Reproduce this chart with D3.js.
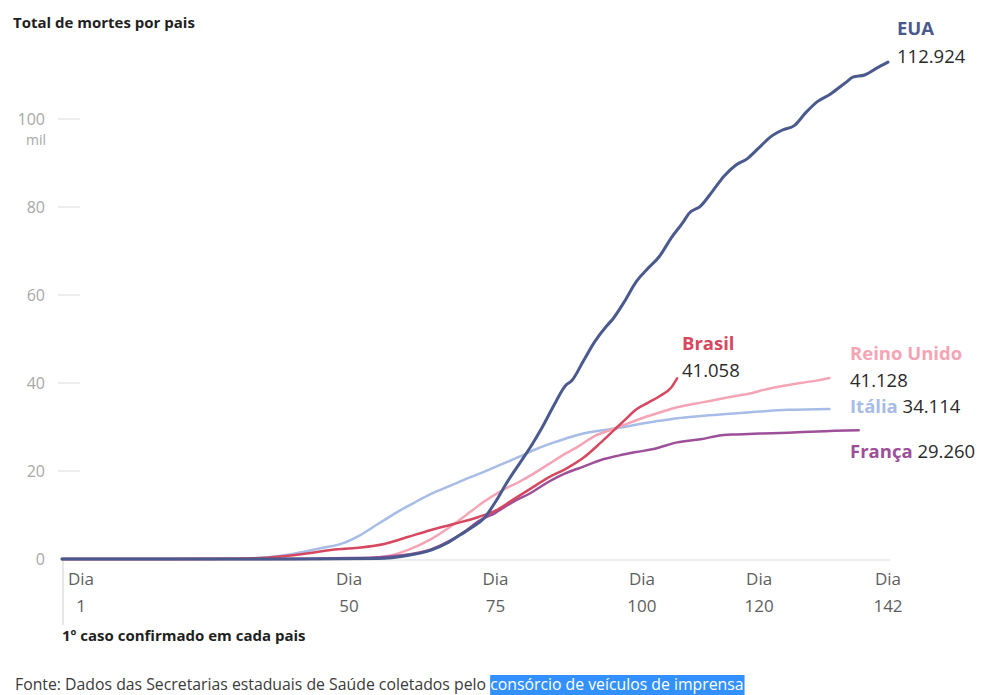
<!DOCTYPE html>
<html><head><meta charset="utf-8">
<script src="https://cdn.jsdelivr.net/npm/d3@7"></script>
<style>
html,body{margin:0;padding:0;background:#fff;overflow:hidden}
svg{display:block;font-family:"Open Sans",sans-serif}
</style></head>
<body>
<svg id="c" width="986" height="695"></svg>
<script>
// ---- data (deaths in thousands, by day since 1st confirmed case) ----
const xTicks = [1, 50, 75, 100, 120, 142];
const yTicks = [0, 20, 40, 60, 80, 100];

const euaDays = [1,40,55,60,64,67,69,71,73,75,77,79,81,83,85,87,88,90,92,94,95,97,99,101,103,105,107,108,110,112,114,116,118,120,122,124,126,128,130,132,134,135,136,138,140,142];
const euaVals = [0,0,0.1,0.8,2,3.8,5.5,7.2,9.2,13,17.5,21.5,25.5,30,35,39.5,40.5,45,49.5,53,54.5,58.5,63,66,68.8,73,76.5,78.5,80.2,83.5,87,89.5,91,93.5,96,97.5,98.5,101.5,104,105.5,107.5,108.5,109.5,110,111.5,112.924];

const brDays = [1,20,30,36,40,44,48,52,56,60,64,68,72,75,78,81,84,87,90,93,95,97,99,101,103,105,106];
const brVals = [0,0,0.05,0.3,0.8,1.5,2.2,2.6,3.4,5,6.6,8,9.5,11,13.5,16,18.5,20.5,23,26.5,29,31.5,34,35.5,37,39,41.058];

const ukDays = [1,45,52,56,60,64,68,71,73,76,79,81,84,87,89,92,95,97,100,103,106,109,112,115,118,121,124,127,130,132];
const ukVals = [0,0,0.1,0.5,2,4.5,8,11,13,15.5,17.5,19,21.5,24,25.5,28,29.5,30.5,32,33.3,34.5,35.3,36,36.8,37.5,38.5,39.3,40,40.6,41.128];

const itDays = [1,25,32,37,41,45,49,52,55,58,61,64,67,70,73,76,79,82,85,88,91,94,97,100,103,106,110,115,120,125,132];
const itVals = [0,0,0.1,0.5,1.3,2.4,3.6,5.5,8,10.5,12.7,14.8,16.5,18.2,19.8,21.5,23.2,25,26.5,27.8,28.8,29.4,30,30.8,31.4,32,32.5,33,33.5,33.9,34.114];

const frDays = [1,35,45,50,55,60,64,67,70,72,75,78,81,84,87,90,93,96,99,102,106,110,114,116,120,125,130,137];
const frVals = [0,0,0.1,0.2,0.4,1.0,2.2,4,6.5,8.5,10.5,13,15,17.5,19.5,21,22.5,23.5,24.3,25,26.5,27.2,28.2,28.3,28.5,28.7,29,29.26];

const countries = ["Itália","Reino Unido","França","Brasil","EUA"];
const finalLabels = ["34.114","41.128","29.260","41.058","112.924"];

// ---- build ----
const series = [
  {name:"Itália", days:itDays, vals:itVals, color:"#a7bce6", w:2.5},
  {name:"Reino Unido", days:ukDays, vals:ukVals, color:"#f4a4b5", w:2.5},
  {name:"França", days:frDays, vals:frVals, color:"#9d4f99", w:2.5},
  {name:"Brasil", days:brDays, vals:brVals, color:"#d6485f", w:2.5},
  {name:"EUA", days:euaDays, vals:euaVals, color:"#4a5a8e", w:3}
];

const svg = d3.select("#c");
const x = d3.scaleLinear().domain([1,142]).range([62,888]);
const y = d3.scaleLinear().domain([0,100]).range([559,119]);

// title
svg.append("text").attr("x",13).attr("y",28).attr("font-size",15).attr("font-weight",700)
  .attr("fill","#1f1f1f").text("Total de mortes por pais");

// y axis
const ya = svg.append("g");
yTicks.forEach(t=>{
  ya.append("text").attr("x",45).attr("y",y(t)+5.5).attr("text-anchor","end")
    .attr("font-size",16).attr("fill","#a8a8a8").text(t);
  if(t>0) ya.append("line").attr("x1",58).attr("x2",80).attr("y1",y(t)).attr("y2",y(t))
    .attr("stroke","#dcdcdc").attr("stroke-width",1);
});
ya.append("text").attr("x",46).attr("y",y(100)+26).attr("text-anchor","end")
  .attr("font-size",14).attr("fill","#a8a8a8").text("mil");

// baseline and left line
svg.append("line").attr("x1",x(1)).attr("x2",890).attr("y1",y(0)+1).attr("y2",y(0)+1)
  .attr("stroke","#eeeeee").attr("stroke-width",2);
svg.append("line").attr("x1",x(1)+1).attr("x2",x(1)+1).attr("y1",y(0)+2).attr("y2",625)
  .attr("stroke","#d8d8d8").attr("stroke-width",1.2);

// x labels
xTicks.forEach((t,i)=>{
  const cx = i===0 ? x(t)+19 : x(t);
  svg.append("text").attr("x",cx).attr("y",585).attr("text-anchor","middle")
    .attr("font-size",17).attr("fill","#5e5e5e").text("Dia");
  svg.append("text").attr("x",cx).attr("y",612).attr("text-anchor","middle")
    .attr("font-size",17).attr("fill","#5e5e5e").text(t);
});
svg.append("text").attr("x",62).attr("y",641).attr("font-size",15).attr("font-weight",700)
  .attr("fill","#1f1f1f").text("1º caso confirmado em cada pais");

// lines
const line = d3.line().x(d=>x(d[0])).y(d=>y(d[1])).curve(d3.curveMonotoneX);
series.forEach(s=>{
  const pts = s.days.map((d,i)=>[d,s.vals[i]]);
  svg.append("path").datum(pts).attr("d",line).attr("fill","none")
    .attr("stroke",s.color).attr("stroke-width",s.w).attr("stroke-linejoin","round").attr("stroke-linecap","round");
});

// end labels
const lab = svg.append("g").attr("font-size",18.5);
function two(name,val,color,xx,y1,y2){
  lab.append("text").attr("x",xx).attr("y",y1).attr("font-weight",700).attr("fill",color).text(name);
  lab.append("text").attr("x",xx).attr("y",y2).attr("fill","#2b2b2b").text(val);
}
function one(name,val,color,xx,yy){
  const t = lab.append("text").attr("x",xx).attr("y",yy);
  t.append("tspan").attr("font-weight",700).attr("fill",color).text(name);
  t.append("tspan").attr("fill","#2b2b2b").text(" "+val);
}
two(countries[4],finalLabels[4],series[4].color,897,35,63);
two(countries[3],finalLabels[3],series[3].color,682,350,377);
two(countries[1],finalLabels[1],series[1].color,850,360,387);
one(countries[0],finalLabels[0],series[0].color,850,413);
one(countries[2],finalLabels[2],series[2].color,850,458);

// footer
const f = svg.append("text").attr("x",15).attr("y",690).attr("font-size",15.8).attr("fill","#3a3a3a");
f.append("tspan").text("Fonte: Dados das Secretarias estaduais de Saúde coletados pelo ");
f.append("tspan").attr("fill","#ffffff").text("consórcio de veículos de imprensa");
const n0 = f.node();
const start = n0.getSubStringLength(0, 63);
const len = n0.getSubStringLength(63, 33);
svg.insert("rect", function(){return n0;}).attr("x",15+start).attr("y",675).attr("width",len+1).attr("height",20).attr("fill","#3390ff");
</script>
</body></html>
